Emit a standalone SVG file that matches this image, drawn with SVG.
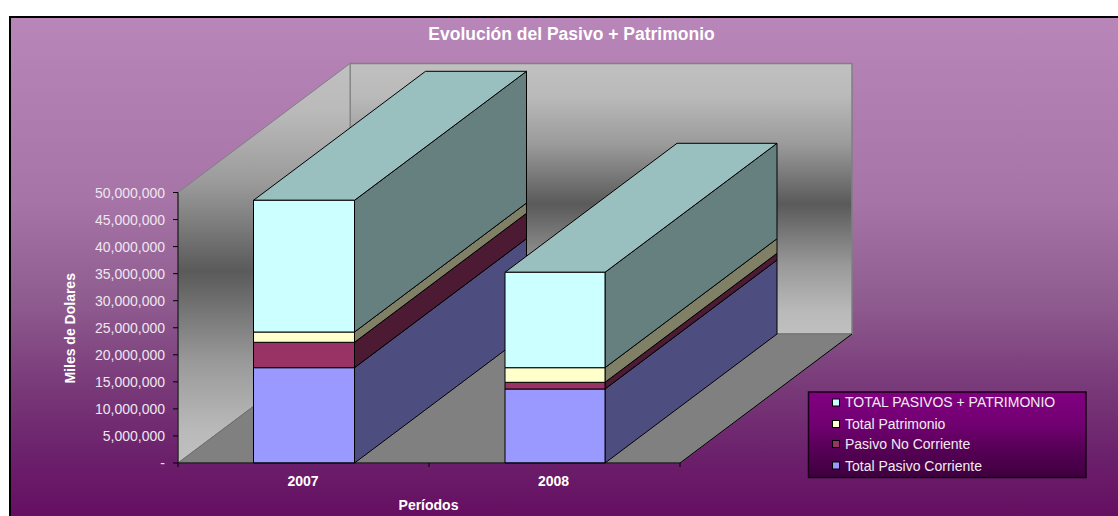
<svg xmlns="http://www.w3.org/2000/svg" width="1118" height="516" viewBox="0 0 1118 516">
<defs>
<linearGradient id="bg" x1="0" y1="16" x2="0" y2="516" gradientUnits="userSpaceOnUse">
<stop offset="0" stop-color="#b886b8"/>
<stop offset="0.37" stop-color="#a674a6"/>
<stop offset="0.57" stop-color="#8f5c90"/>
<stop offset="0.73" stop-color="#7a3c7a"/>
<stop offset="0.87" stop-color="#6c226c"/>
<stop offset="1" stop-color="#660e62"/>
</linearGradient>
<linearGradient id="wall" x1="0" y1="0" x2="0" y2="1">
<stop offset="0" stop-color="#c0c0c0"/>
<stop offset="0.12" stop-color="#bababa"/>
<stop offset="0.3" stop-color="#9a9a9a"/>
<stop offset="0.52" stop-color="#5a5a5a"/>
<stop offset="0.75" stop-color="#9a9a9a"/>
<stop offset="0.92" stop-color="#bababa"/>
<stop offset="1" stop-color="#c0c0c0"/>
</linearGradient>
<linearGradient id="leg" x1="0" y1="0" x2="0" y2="1">
<stop offset="0" stop-color="#820082"/>
<stop offset="0.4" stop-color="#700070"/>
<stop offset="0.65" stop-color="#580058"/>
<stop offset="1" stop-color="#3e003e"/>
</linearGradient>
<style>
text{font-family:"Liberation Sans",Arial,sans-serif;}
.tick{font-size:14px;fill:#efe6ef;text-anchor:end;}
.ttl{font-size:14px;font-weight:bold;fill:#ffffff;text-anchor:middle;}
.lt{font-size:14px;fill:#f2eaf2;}
.e{stroke:#000;stroke-width:1;stroke-linejoin:round;}
.tot{fill:#ccffff;} .totS{fill:#668080;} .totT{fill:#99bfbf;}
.tp{fill:#ffffcc;} .tpS{fill:#808066;}
.pnc{fill:#993366;} .pncS{fill:#4d1a33;}
.tpc{fill:#9999ff;} .tpcS{fill:#4d4d80;}
.sw{stroke:#000;stroke-width:1;}
.ax{stroke:#000;stroke-width:1;fill:none;}
</style>
</defs>
<rect x="0" y="0" width="1118" height="516" fill="#ffffff"/>
<rect x="9" y="16" width="1109" height="500" fill="url(#bg)"/>
<path d="M10,516 V17 H1118" fill="none" stroke="#000" stroke-width="2"/>

<text x="571.5" y="40" font-size="17.5" font-weight="bold" fill="#ffffff" text-anchor="middle">Evolución del Pasivo + Patrimonio</text>

<g id="walls">
<rect x="350" y="63.5" width="502" height="270.5" fill="url(#wall)" stroke="#808080" stroke-width="1.5"/>
<polygon points="178,192.5 350,63.5 350,334 178,463" fill="url(#wall)" stroke="#808080" stroke-width="1"/>
<polygon points="178,463 350,334 852,334 680,463" fill="#808080" stroke="#6e6e6e" stroke-width="1"/>
<line x1="852" y1="334" x2="680" y2="463" stroke="#000" stroke-width="1"/>
</g>

<g id="bar-2007">
<polygon class="tpcS e" points="354.5,367.7 526.5,238.7 526.5,334 354.5,463"/>
<polygon class="pncS e" points="354.5,342.3 526.5,213.3 526.5,238.7 354.5,367.7"/>
<polygon class="tpS e" points="354.5,332 526.5,203 526.5,213.3 354.5,342.3"/>
<polygon class="totS e" points="354.5,200.3 526.5,71.3 526.5,203 354.5,332"/>
<polygon class="totT e" points="253.5,200.3 425.5,71.3 526.5,71.3 354.5,200.3"/>
<rect class="tpc e" x="253.5" y="367.7" width="101" height="95.3"/>
<rect class="pnc e" x="253.5" y="342.3" width="101" height="25.4"/>
<rect class="tp e" x="253.5" y="332" width="101" height="10.3"/>
<rect class="tot e" x="253.5" y="200.3" width="101" height="131.7"/>
</g>

<g id="bar-2008">
<polygon class="tpcS e" points="605,389 777,260 777,334 605,463"/>
<polygon class="pncS e" points="605,382.3 777,253.3 777,260 605,389"/>
<polygon class="tpS e" points="605,367.7 777,238.7 777,253.3 605,382.3"/>
<polygon class="totS e" points="605,272.3 777,143.3 777,238.7 605,367.7"/>
<polygon class="totT e" points="505,272.3 677,143.3 777,143.3 605,272.3"/>
<rect class="tpc e" x="505" y="389" width="100" height="74"/>
<rect class="pnc e" x="505" y="382.3" width="100" height="6.7"/>
<rect class="tp e" x="505" y="367.7" width="100" height="14.6"/>
<rect class="tot e" x="505" y="272.3" width="100" height="95.4"/>
</g>

<g id="axes">
<path class="ax" d="M178,192.5 V463 H680"/>
<path class="ax" d="M173,192.5 H178 M173,219.55 H178 M173,246.6 H178 M173,273.65 H178 M173,300.7 H178 M173,327.75 H178 M173,354.8 H178 M173,381.85 H178 M173,408.9 H178 M173,435.95 H178 M173,463 H178 M178,463 V467 M429,463 V467 M680,463 V467"/>
<text class="tick" x="165" y="197.5">50,000,000</text>
<text class="tick" x="165" y="224.55">45,000,000</text>
<text class="tick" x="165" y="251.6">40,000,000</text>
<text class="tick" x="165" y="278.65">35,000,000</text>
<text class="tick" x="165" y="305.7">30,000,000</text>
<text class="tick" x="165" y="332.75">25,000,000</text>
<text class="tick" x="165" y="359.8">20,000,000</text>
<text class="tick" x="165" y="386.85">15,000,000</text>
<text class="tick" x="165" y="413.9">10,000,000</text>
<text class="tick" x="165" y="440.95">5,000,000</text>
<text class="tick" x="165" y="468">-</text>
<text class="ttl" x="303" y="486">2007</text>
<text class="ttl" x="553.5" y="486">2008</text>
<text class="ttl" x="428.5" y="510" font-size="14.5">Períodos</text>
<text class="ttl" transform="translate(75,328.3) rotate(-90)" x="0" y="0" font-size="14.3">Miles de Dolares</text>
</g>

<g id="legend">
<rect x="808.5" y="392" width="277.5" height="85.5" fill="url(#leg)" stroke="#1a001a" stroke-width="1.5"/>
<rect class="sw tot" x="832.5" y="399" width="7" height="7"/>
<text class="lt" x="845" y="407.3">TOTAL PASIVOS + PATRIMONIO</text>
<rect class="sw tp" x="832.5" y="420.5" width="7" height="7"/>
<text class="lt" x="845" y="428.7">Total Patrimonio</text>
<rect class="sw pnc" x="832.5" y="440.5" width="7" height="7"/>
<text class="lt" x="845" y="448.7">Pasivo No Corriente</text>
<rect class="sw tpc" x="832.5" y="462" width="7" height="7"/>
<text class="lt" x="845" y="470.7">Total Pasivo Corriente</text>
</g>
</svg>
